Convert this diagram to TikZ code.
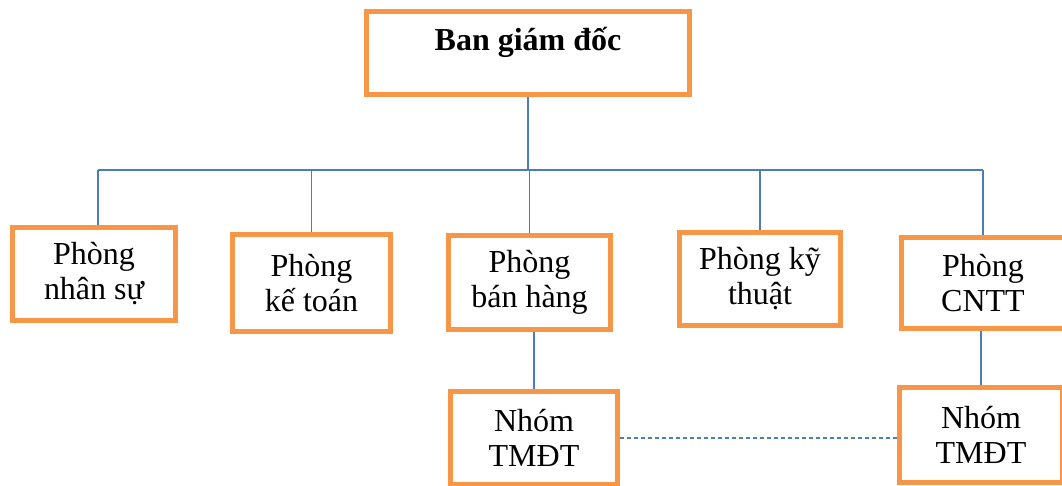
\documentclass[tikz,border=0pt]{standalone}
\usepackage{fontspec}
\setmainfont{Liberation Serif}
\usetikzlibrary{positioning}
\definecolor{boxorange}{HTML}{F79646}
\definecolor{lineblue}{HTML}{4A7EBB}

\begin{document}
\begin{tikzpicture}[x=0.5pt,y=-0.5pt,
   box/.style={draw=boxorange,line width=2.5pt,fill=white,inner sep=0pt,align=center,font=\fontsize{16}{17.5}\selectfont},
   link/.style={draw=lineblue,line width=0.75pt}]
   \useasboundingbox (0,0) rectangle (1062,486);
   \node[box,minimum width=161.5pt,minimum height=41.5pt,text height=19.75pt,text depth=21.75pt,font=\bfseries\fontsize{16}{17.5}\selectfont] (bgd) at (528,53) {Ban giám đốc};
   \coordinate (bus) at (529,170);
   \node[box,minimum width=81.5pt,minimum height=46.5pt] (pns) at (94,274) {Phòng\\nhân sự};
   \node[box,minimum width=79pt,minimum height=48.5pt] (pkt) at (311.5,283) {Phòng\\kế toán};
   \node[box,minimum width=81pt,minimum height=47pt] (pbh) at (529.5,282.5) {Phòng\\bán hàng};
   \node[box,minimum width=80.5pt,minimum height=46.5pt] (pkth) at (760,279) {Phòng kỹ\\thuật};
   \node[box,minimum width=81.5pt,minimum height=45.5pt] (pcntt) at (983,283) {Phòng\\CNTT};
   \node[box,minimum width=83.5pt,minimum height=46.5pt] (tm1) at (534,438) {Nhóm\\TMĐT};
   \node[box,minimum width=81.5pt,minimum height=47.5pt] (tm2) at (981,435) {Nhóm\\TMĐT};
   \draw[link] (bgd.south) -- (bgd.south |- bus);
   \draw[link] ([xshift=2pt]pns.north |- bus) -- (pcntt.north |- bus);
   \draw[link] ([xshift=2pt]pns.north) -- ([xshift=2pt]pns.north |- bus);
   \foreach \b in {pkt,pbh,pkth,pcntt}
      \draw[link] (\b.north) -- (\b.north |- bus);
   \draw[link] (tm1.north) -- (tm1.north |- pbh.south);
   \draw[link] (tm2.north) -- (tm2.north |- pcntt.south);
   \draw[link,dash pattern=on 2pt off 1.5pt] (tm1.east) -- (tm1.east -| tm2.west);
\end{tikzpicture}
\end{document}
